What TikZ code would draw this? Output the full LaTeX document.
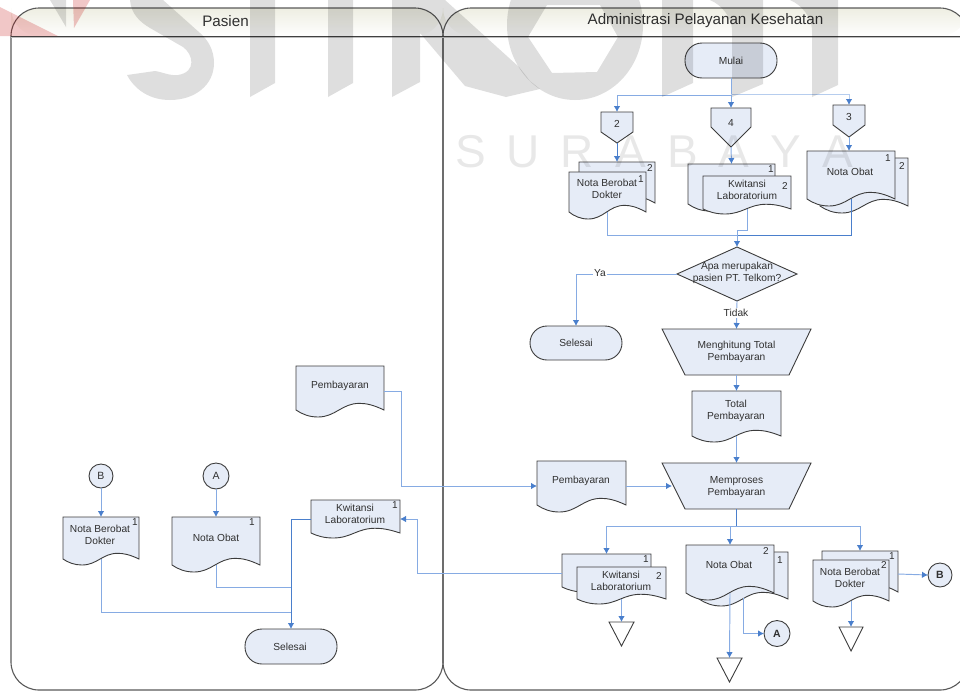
\documentclass[tikz,border=0pt]{standalone}
\usepackage{fontspec}
\setmainfont{Liberation Sans}
\usetikzlibrary{arrows.meta,shapes.geometric}
\definecolor{shfill}{HTML}{E6ECF7}
\definecolor{shline}{HTML}{3C3C3C}
\definecolor{flowc}{HTML}{86ABE3}
\definecolor{tipc}{HTML}{4A7FCC}
\definecolor{txtc}{HTML}{303030}
\definecolor{headc}{HTML}{EEEEE2}
\tikzset{
  shp/.style={draw=shline,fill=shfill,line width=.9pt,line join=miter},
  term/.style={shp,rounded corners=17pt,inner sep=0pt,outer sep=0pt},
  circ/.style={shp,circle,inner sep=0pt,outer sep=0pt,text=txtc,font=\fontsize{10.5}{12}\selectfont},
  anch/.style={inner sep=0pt,outer sep=0pt},
  lbl/.style={inner sep=0pt,outer sep=0pt,align=center,text=txtc,font=\fontsize{10.2}{12}\selectfont},
  num/.style={inner sep=0pt,outer sep=0pt,text=txtc,font=\fontsize{10}{12}\selectfont},
  wlbl/.style={lbl,fill=white,inner sep=1pt},
  lanetitle/.style={inner sep=0pt,outer sep=0pt,text=txtc,font=\fontsize{15.2}{16}\selectfont},
  conn/.style={draw=flowc,line width=.95pt},
  flow/.style={conn,-{Latex[length=6pt,width=6.5pt,color=tipc]}},
  wm/.style={fill=black,fill opacity=.13}
}
% anchor box: name, x1, y1, x2, y2
\newcommand{\anchbox}[5]{%
  \pgfmathsetmacro{\bw}{#4-#2}\pgfmathsetmacro{\bh}{#5-#3}%
  \node[anch,minimum width=\bw pt,minimum height=\bh pt] (#1) at ({(#2+#4)/2},{(#3+#5)/2}) {};}
% document: name, x1, y1, x2, ybottom, amplitude
\newcommand{\docshape}[6]{%
  \pgfmathsetmacro{\dw}{#4-#2}\pgfmathsetmacro{\dh}{#5-#3}\def\da{#6}%
  \begin{scope}[shift={(#2,#3)},x=\dw pt,y=-1pt]
    \path[shp] (0,0) -- (1,0) -- (1,\dh)
      .. controls (.88,\dh-.72*\da) and (.80,\dh-.95*\da) .. (.72,\dh-.95*\da)
      .. controls (.52,\dh-.95*\da) and (.45,\dh+\da) .. (.25,\dh+\da)
      .. controls (.15,\dh+\da) and (.07,\dh+.6*\da) .. (0,\dh) -- cycle;
  \end{scope}%
  \anchbox{#1}{#2}{#3}{#4}{#5}}
% off-page pentagon: name, x1, x2, ytop, yshoulder, ytip
\newcommand{\pentashape}[6]{%
  \path[shp] (#2,#4) -- (#3,#4) -- (#3,#5) -- ({(#2+#3)/2},#6) -- (#2,#5) -- cycle;
  \anchbox{#1}{#2}{#4}{#3}{#6}}
% trapezoid: name, x1, x2 (top), x3, x4 (bottom), ytop, ybottom
\newcommand{\trapshape}[7]{%
  \path[shp] (#2,#6) -- (#3,#6) -- (#5,#7) -- (#4,#7) -- cycle;
  \anchbox{#1}{#2}{#6}{#3}{#7}}
% storage triangle: name, x1, x2, ytop, ytip
\newcommand{\trishape}[5]{%
  \path[draw=shline,fill=white,line width=.9pt] (#2,#4) -- (#3,#4) -- ({(#2+#3)/2},#5) -- cycle;
  \anchbox{#1}{#2}{#4}{#3}{#5}}
\begin{document}
\begin{tikzpicture}[x=1pt,y=-1pt]
\useasboundingbox (0,0) rectangle (960,691);
\clip (0,0) rectangle (960,691);
% lanes
\shade[top color=headc,bottom color=white!96!headc,rounded corners=28pt] (11,36) -- (11,8) -- (443,8) -- (443,36) -- cycle;
\shade[top color=headc,bottom color=white!96!headc,rounded corners=28pt] (443,36) -- (443,8) -- (968,8) -- (968,36) -- cycle;
\draw[draw=black!65,line width=1.1pt,rounded corners=28pt] (11,8) rectangle (443,690);
\draw[draw=black!65,line width=1.1pt,rounded corners=28pt] (443,8) rectangle (968,690);
\draw[black!75,line width=.9pt] (11,36) -- (968,36);
\draw[black!25,line width=.8pt] (11,37.2) -- (968,37.2);
\node[lanetitle] (lane1) at (225.5,21) {Pasien};
\node[lanetitle] (lane2) at (705.5,21) {Administrasi Pelayanan Kesehatan};

% top of right lane
\node[term,minimum width=92pt,minimum height=35pt] (mulai) at (731,60.5) {};
\node[lbl] (tmulai) at (731,61) {Mulai};
\pentashape{off2}{601}{633}{112}{132}{143}
\pentashape{off4}{711}{751}{108}{127}{147}
\pentashape{off3}{833}{865}{105}{125}{137}
\node[lbl] (t2) at (617,124) {2};
\node[lbl] (t4) at (731,123) {4};
\node[lbl] (t3) at (849,117) {3};
% stack Nota Berobat
\docshape{nbb}{579}{162}{655}{203}{7}
\docshape{nbf}{569}{172}{646}{212}{7}
\node[lbl] (tnb) at (607,189) {Nota Berobat\\Dokter};
\node[num] (nbn1) at (641,179) {1};
\node[num] (nbn2) at (650,168) {2};
% stack Kwitansi
\docshape{kwb}{688}{164}{775}{204}{7}
\docshape{kwf}{703}{176}{791}{209}{5}
\node[lbl] (tkw) at (747,190) {Kwitansi\\Laboratorium};
\node[num] (kwn1) at (771,169) {1};
\node[num] (kwn2) at (785,186) {2};
% stack Nota Obat
\docshape{nob}{820}{158}{908}{206}{7}
\docshape{nof}{807}{151}{895}{199}{7}
\node[lbl] (tno) at (850,172) {Nota Obat};
\node[num] (non1) at (888,158) {1};
\node[num] (non2) at (902,166) {2};
% decision
\node[shp,diamond,aspect=2.22,inner sep=0pt,outer sep=0pt,minimum width=120pt,minimum height=54pt] (dia) at (737,274) {};
\node[lbl] (tdia) at (737,273) {Apa merupakan\\pasien PT. Telkom?};
\node[term,minimum width=92pt,minimum height=34pt] (sel1) at (576,343) {};
\node[lbl] (tsel1) at (576,343) {Selesai};
\trapshape{mh}{662}{811}{685}{789}{329}{375}
\node[lbl] (tmh) at (736.5,351.5) {Menghitung Total\\Pembayaran};
\docshape{total}{692}{391}{781}{436}{6}
\node[lbl] (ttotal) at (736,411) {Total\\Pembayaran};
\trapshape{mp}{662}{811}{685}{789}{463}{509}
\node[lbl] (tmp) at (736.5,487) {Memproses\\Pembayaran};
\docshape{payr}{537}{461}{626}{505}{7}
\node[lbl] (tpayr) at (581,480.5) {Pembayaran};
% bottom stacks
\docshape{k2b}{562}{554}{651}{587}{5}
\docshape{k2f}{577}{567}{666}{599}{5}
\node[lbl] (tk2) at (621,580.5) {Kwitansi\\Laboratorium};
\node[num] (k2n1) at (646,559) {1};
\node[num] (k2n2) at (659,576) {2};
\docshape{no2b}{699}{552}{788}{599}{7}
\docshape{no2f}{686}{545}{774}{593}{7}
\node[lbl] (tno2) at (729,565) {Nota Obat};
\node[num] (no2n2) at (766,551) {2};
\node[num] (no2n1) at (780,560) {1};
\docshape{nb2b}{822}{551}{898}{592}{7}
\docshape{nb2f}{813}{560}{889}{601}{6}
\node[lbl] (tnb2) at (850,578) {Nota Berobat\\Dokter};
\node[num] (nb2n1) at (892,556) {1};
\node[num] (nb2n2) at (884,565) {2};
\trishape{tri1}{609}{634}{622}{646}
\trishape{tri2}{717}{742}{658}{682}
\trishape{tri3}{839}{863}{627}{651}
\node[circ,minimum size=26pt,font=\bfseries\fontsize{10.5}{12}\selectfont] (ca2) at (777,633.5) {A};
\node[circ,minimum size=24pt,font=\bfseries\fontsize{10.5}{12}\selectfont] (cb2) at (940,575) {B};

% left lane
\docshape{payl}{296}{366}{384}{410}{7}
\node[lbl] (tpayl) at (340,385.5) {Pembayaran};
\docshape{kwl}{311}{500}{400}{533}{5}
\node[lbl] (tkwl) at (355,514) {Kwitansi\\Laboratorium};
\node[num] (kwln) at (395,505) {1};
\node[circ,minimum size=24pt] (cb1) at (101,476) {B};
\node[circ,minimum size=26pt] (ca1) at (216,476) {A};
\docshape{nbl}{63}{517}{139}{559}{6}
\node[lbl] (tnbl) at (100,535) {Nota Berobat\\Dokter};
\node[num] (nbln) at (135,522) {1};
\docshape{nol}{172}{517}{260}{565}{7}
\node[lbl] (tnol) at (216,538) {Nota Obat};
\node[num] (noln) at (252,522) {1};
\node[term,minimum width=92pt,minimum height=35pt] (sel2) at (291,646.5) {};
\node[lbl] (tsel2) at (290,647) {Selesai};

% junction points and free ends
\coordinate (j1) at (731,95);
\coordinate (j1b) at (731,94);
\coordinate (j2) at (737,235);
\coordinate (j3) at (737,230);
\coordinate (j4) at (736.5,526);
\coordinate (c2) at (617,162);
\coordinate (c4) at (731.5,164);
\coordinate (c3) at (849,151);
\coordinate (pe) at (384,391);
\coordinate (pw) at (401,486);
\coordinate (payw) at (537,486);
\coordinate (paye) at (626,486);
\coordinate (mpw) at (672,486);
\coordinate (k2w) at (562,573);
\coordinate (kr) at (417,519);
\coordinate (kwle) at (400,519);
\coordinate (kwlw) at (311,519);
\coordinate (ml) at (290.5,587);
\coordinate (mb) at (290.5,612);
\coordinate (a2s) at (743,598);
\coordinate (b2s) at (898,574);

% connectors
\draw[conn] (mulai.south) -- (j1);
\draw[flow] (j1) -| (off2.north);
\draw[flow] (j1) -- (off4.north);
\draw[flow,draw=flowc!60] (j1b) -| (off3.north);
\draw[flow,draw=tipc] (off2.south) -- (c2);
\draw[flow] (off4.south) -- (c4);
\draw[flow] (off3.south) -- (c3);
\draw[conn] (nbf.south) |- (j2);
\draw[conn,draw=tipc] (nof.south) |- (j2);
\draw[conn] (kwf.south) |- (j3);
\draw[flow] (j3) -- (dia.north);
\draw[flow] (dia.west) -| (sel1.north);
\node[wlbl] (ya) at (600,273) {Ya};
\draw[flow] (dia.south) -- (mh.north);
\node[wlbl] (tidak) at (736,313) {Tidak};
\draw[flow] (mh.south) -- (total.north);
\draw[flow] (total.south) -- (mp.north);
\draw[flow] (pe) -| (pw) -- (payw);
\draw[flow] (paye) -- (mpw);
\draw[conn,draw=tipc,line width=1.2pt] (mp.south) -- (j4);
\draw[flow] (j4) -| (k2b.north);
\draw[flow] (j4) -| (no2f.north);
\draw[flow] (j4) -| (nb2b.north);
\draw[flow] (k2f.south) -- (tri1.north);
\draw[flow] (no2f.south) -- (tri2.north);
\draw[flow] (a2s) |- (ca2.west);
\draw[flow] (nb2f.south) -- (tri3.north);
\draw[flow] (b2s) -- (cb2.west);
\draw[flow] (k2w) -| (kr) -- (kwle);
\draw[flow,draw=tipc] (kwlw) -| (sel2.north);
\draw[flow] (cb1.south) -- (nbl.north);
\draw[flow] (ca1.south) -- (nol.north);
\draw[conn] (nol.south) |- (ml);
\draw[conn] (nbl.south) |- (mb);

% watermark over everything
\fill[red!75!black,fill opacity=.22] (0,7) -- (58,36) -- (0,36) -- cycle;
\fill[red!75!black,fill opacity=.22] (73,0) -- (90,0) -- (74,28) -- cycle;
\fill[wm] (50,0) -- (66,0) -- (66,27) -- cycle;
\fill[wm] (130,0) .. controls (131,14) and (140,22) .. (150,28) -- (183,47)
   .. controls (193,54) and (197,72) .. (178,75) .. controls (170,76) and (162,72) .. (155,71) -- (127,75)
   .. controls (135,90) and (150,100) .. (170,100) .. controls (195,100) and (214,85) .. (214,63)
   .. controls (214,50) and (208,40) .. (200,33) -- (163,0) -- cycle;
\fill[wm] (250,0) -- (275,0) -- (275,83) -- (250,97) -- cycle;
\fill[wm] (328,0) -- (353,0) -- (353,83) -- (328,97) -- cycle;
\fill[wm] (392,0) -- (445,0) -- (519,67) -- (530,81) -- (540,89) -- (506,97) -- (465,86) -- (420,33) -- (420,82) -- (392,97) -- cycle;
\fill[wm,even odd rule] (575,25) ellipse [x radius=68,y radius=75]
   (528,37) -- (552,73) -- (597,72) -- (618,37) -- (600,5) -- (547,5) -- cycle;
\fill[wm] (662,0) -- (693,0) -- (693,83) -- (662,97) -- cycle;
\fill[wm] (710,0) -- (763,0) -- (763,84) -- (732,97) -- (732,30) .. controls (732,18) and (722,5) .. (710,0) -- cycle;
\fill[wm] (790,0) -- (838,0) -- (838,85) -- (812,97) -- (812,30) .. controls (812,18) and (802,5) .. (790,0) -- cycle;
\node[inner sep=0pt,outer sep=0pt,anchor=base west,text=black,text opacity=.09,font=\fontsize{46}{50}\selectfont] (sby) at (455,167)
  {\makebox[398pt][s]{S\hfill U\hfill R\hfill A\hfill B\hfill A\hfill Y\hfill A}};
\end{tikzpicture}
\end{document}
